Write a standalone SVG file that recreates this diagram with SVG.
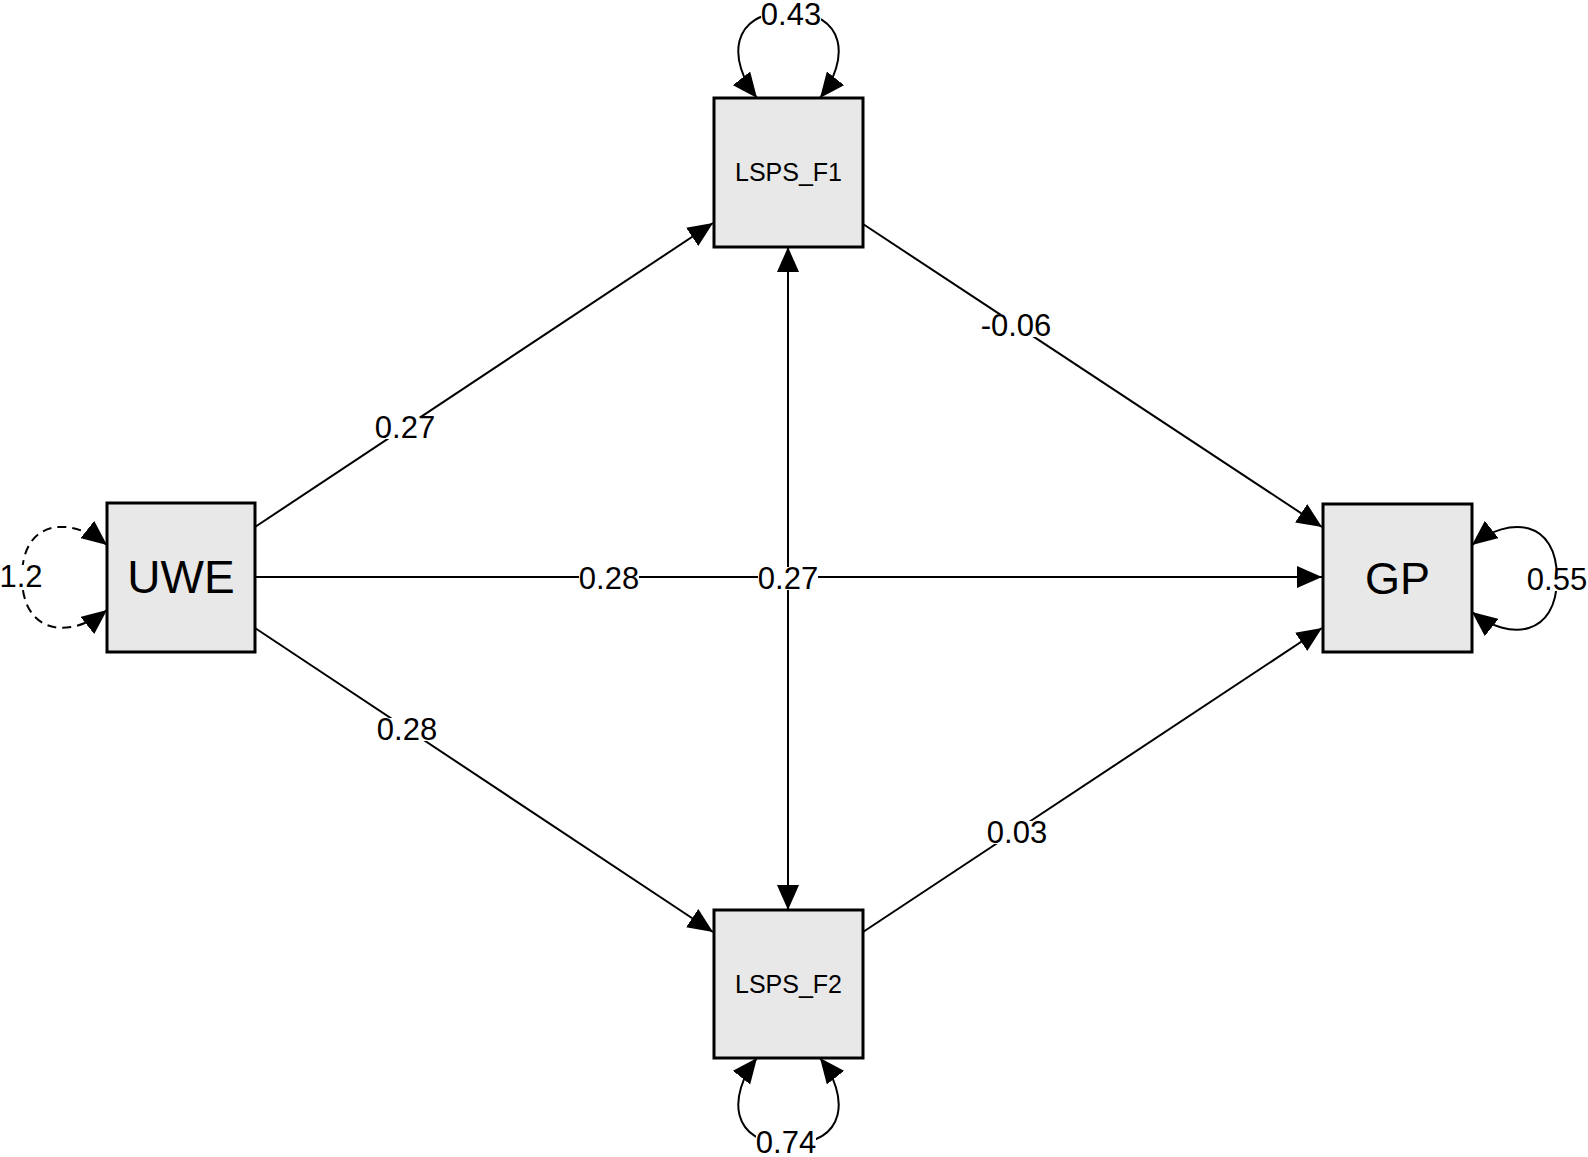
<svg xmlns="http://www.w3.org/2000/svg" width="1588" height="1157" viewBox="0 0 1588 1157">
<style>
.node rect{fill:#e8e8e8;stroke:#000;stroke-width:3}
.node text{font-family:"Liberation Sans",Arial,sans-serif;fill:#000;text-anchor:middle}
.edge{fill:none;stroke:#000;stroke-width:2}
.dash{stroke-dasharray:9 6}
.bg{fill:#fff}
.lbl{font-family:"Liberation Sans",Arial,sans-serif;font-size:31px;fill:#000;text-anchor:middle}
</style>
<defs>
<marker id="arr" markerUnits="userSpaceOnUse" viewBox="0 0 25 22" refX="25" refY="11" markerWidth="25" markerHeight="22" orient="auto-start-reverse">
<path d="M0,0 L25,11 L0,22 z" fill="#000"/>
</marker>
</defs>
<rect width="1588" height="1157" fill="#fff"/>
<g id="connectors">
<path class="edge" d="M255 527 L713 223" marker-end="url(#arr)"/>
<path class="edge" d="M863 224 L1322 527" marker-end="url(#arr)"/>
<path class="edge" d="M255 577 L1322 577" marker-end="url(#arr)"/>
<path class="edge" d="M255 628 L713 932" marker-end="url(#arr)"/>
<path class="edge" d="M863 932 L1322 628" marker-end="url(#arr)"/>
<path class="edge" d="M788 247 L788 910" marker-start="url(#arr)" marker-end="url(#arr)"/>
<path class="edge" d="M757 98 C727 60 730 12 788.5 12 C847 12 850 60 820 98" marker-start="url(#arr)" marker-end="url(#arr)"/>
<path class="edge" d="M757 1058 C727 1096 730 1144 788.5 1144 C847 1144 850 1096 820 1058" marker-start="url(#arr)" marker-end="url(#arr)"/>
<path class="edge dash" d="M107 545 C69 515 22 520 22 577 C22 634 69 640 107 610" marker-start="url(#arr)" marker-end="url(#arr)"/>
<path class="edge" d="M1472 545 C1510 515 1557 520 1557 578 C1557 636 1510 642 1472 612" marker-start="url(#arr)" marker-end="url(#arr)"/>
<rect class="bg" x="375" y="416" width="60" height="23"/><text class="lbl" x="405" y="438">0.27</text>
<rect class="bg" x="981" y="314" width="70" height="23"/><text class="lbl" x="1016" y="336">-0.06</text>
<rect class="bg" x="579" y="567" width="60" height="23"/><text class="lbl" x="609" y="589">0.28</text>
<rect class="bg" x="758" y="567" width="60" height="23"/><text class="lbl" x="788" y="589">0.27</text>
<rect class="bg" x="377" y="718" width="60" height="23"/><text class="lbl" x="407" y="740">0.28</text>
<rect class="bg" x="987" y="821" width="60" height="23"/><text class="lbl" x="1017" y="843">0.03</text>
<rect class="bg" x="761" y="3" width="60" height="23"/><text class="lbl" x="791" y="25">0.43</text>
<rect class="bg" x="756" y="1131" width="60" height="23"/><text class="lbl" x="786" y="1153">0.74</text>
<rect class="bg" x="0" y="565" width="43" height="23"/><text class="lbl" x="21" y="587">1.2</text>
<rect class="bg" x="1527" y="568" width="61" height="23"/><text class="lbl" x="1557" y="590">0.55</text>
</g>
<g id="node-UWE" class="node"><rect x="107" y="503" width="148" height="149"/><text x="181" y="593" font-size="46">UWE</text></g>
<g id="node-GP" class="node"><rect x="1323" y="504" width="149" height="148"/><text x="1397.5" y="594" font-size="45">GP</text></g>
<g id="node-LSPS_F1" class="node"><rect x="714" y="98" width="149" height="149"/><text x="788.5" y="181" font-size="25">LSPS_F1</text></g>
<g id="node-LSPS_F2" class="node"><rect x="714" y="910" width="149" height="148"/><text x="788.5" y="993" font-size="25">LSPS_F2</text></g>
</svg>
